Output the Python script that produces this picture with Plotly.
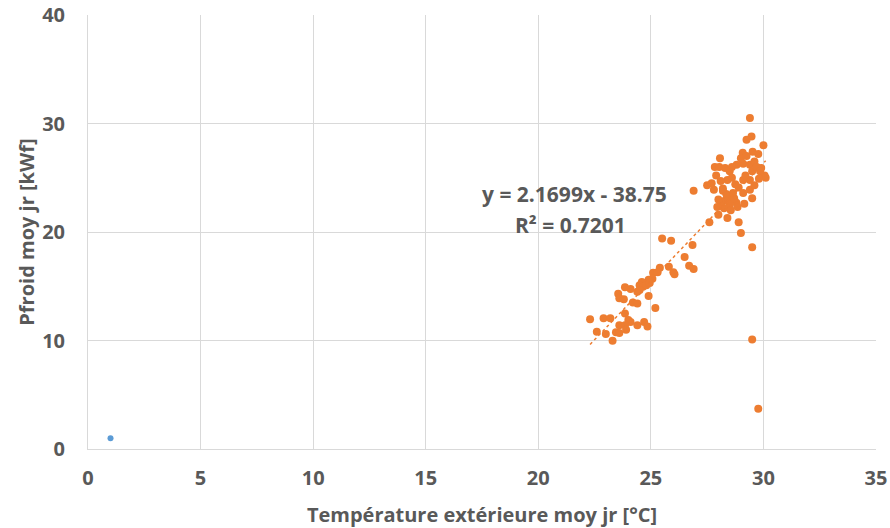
import plotly.graph_objects as go

# Température extérieure moyenne journalière [°C] / Pfroid moyenne journalière [kWf]
temp_ete = [
    29.4, 29.47, 29.25, 30.0, 29.08, 29.52, 29.77, 28.07, 27.84, 28.04, 28.81, 29.1,
    29.4, 29.6, 29.9, 30.1, 30.05, 27.9, 28.5, 28.4, 29.1, 29.4, 29.5, 27.5, 26.9,
    27.8, 28.2, 28.4, 28.6, 29.1, 29.4, 29.5, 28.1, 28.5, 28.8, 28.0, 28.4, 27.6,
    28.9, 29.0, 29.5,
    28.3, 28.45, 28.6, 28.7, 28.25, 28.55, 28.15, 27.95, 28.35, 28.65, 28.9, 28.75,
    29.2, 28.6, 28.3, 28.6, 29.0, 29.25, 29.7, 29.85, 28.1, 27.7, 28.0, 28.85, 29.15,
    28.2, 29.6, 29.8,
    25.5, 25.9, 26.85, 26.5, 26.7, 26.9, 25.8, 26.0, 26.05, 25.4, 25.1, 25.3, 25.07,
    24.9, 24.6, 24.5, 24.65, 24.8, 24.95, 24.4, 24.5, 23.85, 24.1, 23.55, 23.6, 23.8,
    24.9, 24.2, 24.4, 25.2, 23.85, 22.3, 22.9, 23.2, 24.0, 24.1, 23.6, 23.85, 23.9,
    24.4, 24.7, 24.85, 22.6, 23.0, 23.45, 23.6, 23.3, 29.5, 29.77,
]
pfroid_ete = [
    30.5, 28.8, 28.5, 28.0, 27.3, 27.4, 27.2, 26.8, 26.0, 26.0, 26.2, 26.3,
    26.2, 26.5, 25.9, 25.0, 25.2, 25.2, 25.6, 24.8, 24.8, 24.8, 25.6, 24.3, 23.8,
    23.9, 23.8, 23.3, 23.2, 23.6, 23.9, 23.1, 22.6, 22.4, 22.7, 21.6, 21.3, 20.9,
    20.9, 19.9, 18.6,
    22.9, 23.0, 22.8, 23.1, 22.2, 22.0, 22.4, 22.3, 23.5, 23.6, 24.1, 24.4,
    25.2, 25.0, 25.9, 26.0, 26.8, 27.0, 26.0, 25.6, 24.7, 24.5, 23.0, 22.3, 22.6,
    24.0, 24.3, 24.9,
    19.4, 19.2, 18.8, 17.7, 16.9, 16.6, 16.8, 16.3, 16.1, 16.7, 16.25, 16.3, 15.7,
    15.6, 15.4, 15.1, 14.95, 15.1, 15.3, 14.5, 14.65, 14.9, 14.75, 14.3, 13.9, 13.8,
    14.1, 13.5, 13.4, 13.0, 12.5, 11.95, 12.05, 12.05, 11.9, 11.7, 11.4, 11.4, 11.0,
    11.4, 11.7, 11.3, 10.8, 10.6, 10.75, 10.7, 9.98, 10.1, 3.7,
]

# Point isolé (hors période de refroidissement)
temp_hiver = [1.0]
pfroid_hiver = [1.0]

# Courbe de tendance linéaire
pente = 2.1699
ordonnee = -38.75
r2 = 0.7201

x_axis_ticks = [0, 5, 10, 15, 20, 25, 30, 35]
y_axis_ticks = [0, 10, 20, 30, 40]

grey_text = "#595959"
grid = "#d9d9d9"
font_family = "Open Sans, Liberation Sans, sans-serif"

x_min = min(temp_ete)
x_max = max(temp_ete)
trend_x = [x_min, x_max]
trend_y = [pente * v + ordonnee for v in trend_x]

fig = go.Figure()
fig.add_trace(go.Scatter(
    x=temp_hiver, y=pfroid_hiver, mode="markers",
    marker=dict(color="#5B9BD5", size=6), showlegend=False,
))
fig.add_trace(go.Scatter(
    x=temp_ete, y=pfroid_ete, mode="markers",
    marker=dict(color="#ED7D31", size=8), showlegend=False,
))
fig.add_trace(go.Scatter(
    x=trend_x, y=trend_y, mode="lines",
    line=dict(color="#ED7D31", width=1.5, dash="dot"), showlegend=False,
))

fig.add_annotation(
    x=21.62, y=23.5, xref="x", yref="y", showarrow=False,
    text=f"<b>y = {pente:.4f}x - {abs(ordonnee):.2f}</b>",
    font=dict(family=font_family, size=21, color=grey_text),
)
fig.add_annotation(
    x=21.45, y=20.65, xref="x", yref="y", showarrow=False,
    text=f"<b>R² = {r2:.4f}</b>",
    font=dict(family=font_family, size=21, color=grey_text),
)

axis_common = dict(
    showgrid=True, gridcolor=grid, gridwidth=1,
    showline=True, linecolor=grid, linewidth=1,
    zeroline=False, ticks="", automargin=False,
    tickfont=dict(family=font_family, size=20, color=grey_text, weight="bold"),
)

fig.update_xaxes(
    range=[0, 35], tickvals=x_axis_ticks, ticklabelstandoff=11,
    title=dict(text="<b>Température extérieure moy jr [°C]</b>", standoff=17,
               font=dict(family=font_family, size=20, color=grey_text)),
    **axis_common,
)
fig.update_yaxes(
    range=[0, 40], tickvals=y_axis_ticks, ticklabelstandoff=18,
    title=dict(text="<b>Pfroid moy jr [kWf]</b>", standoff=2,
               font=dict(family=font_family, size=20, color=grey_text)),
    **axis_common,
)

fig.update_layout(
    width=890, height=528,
    margin=dict(l=88, r=14, t=15, b=79),
    paper_bgcolor="white", plot_bgcolor="white",
)

fig.write_html("out.html")
